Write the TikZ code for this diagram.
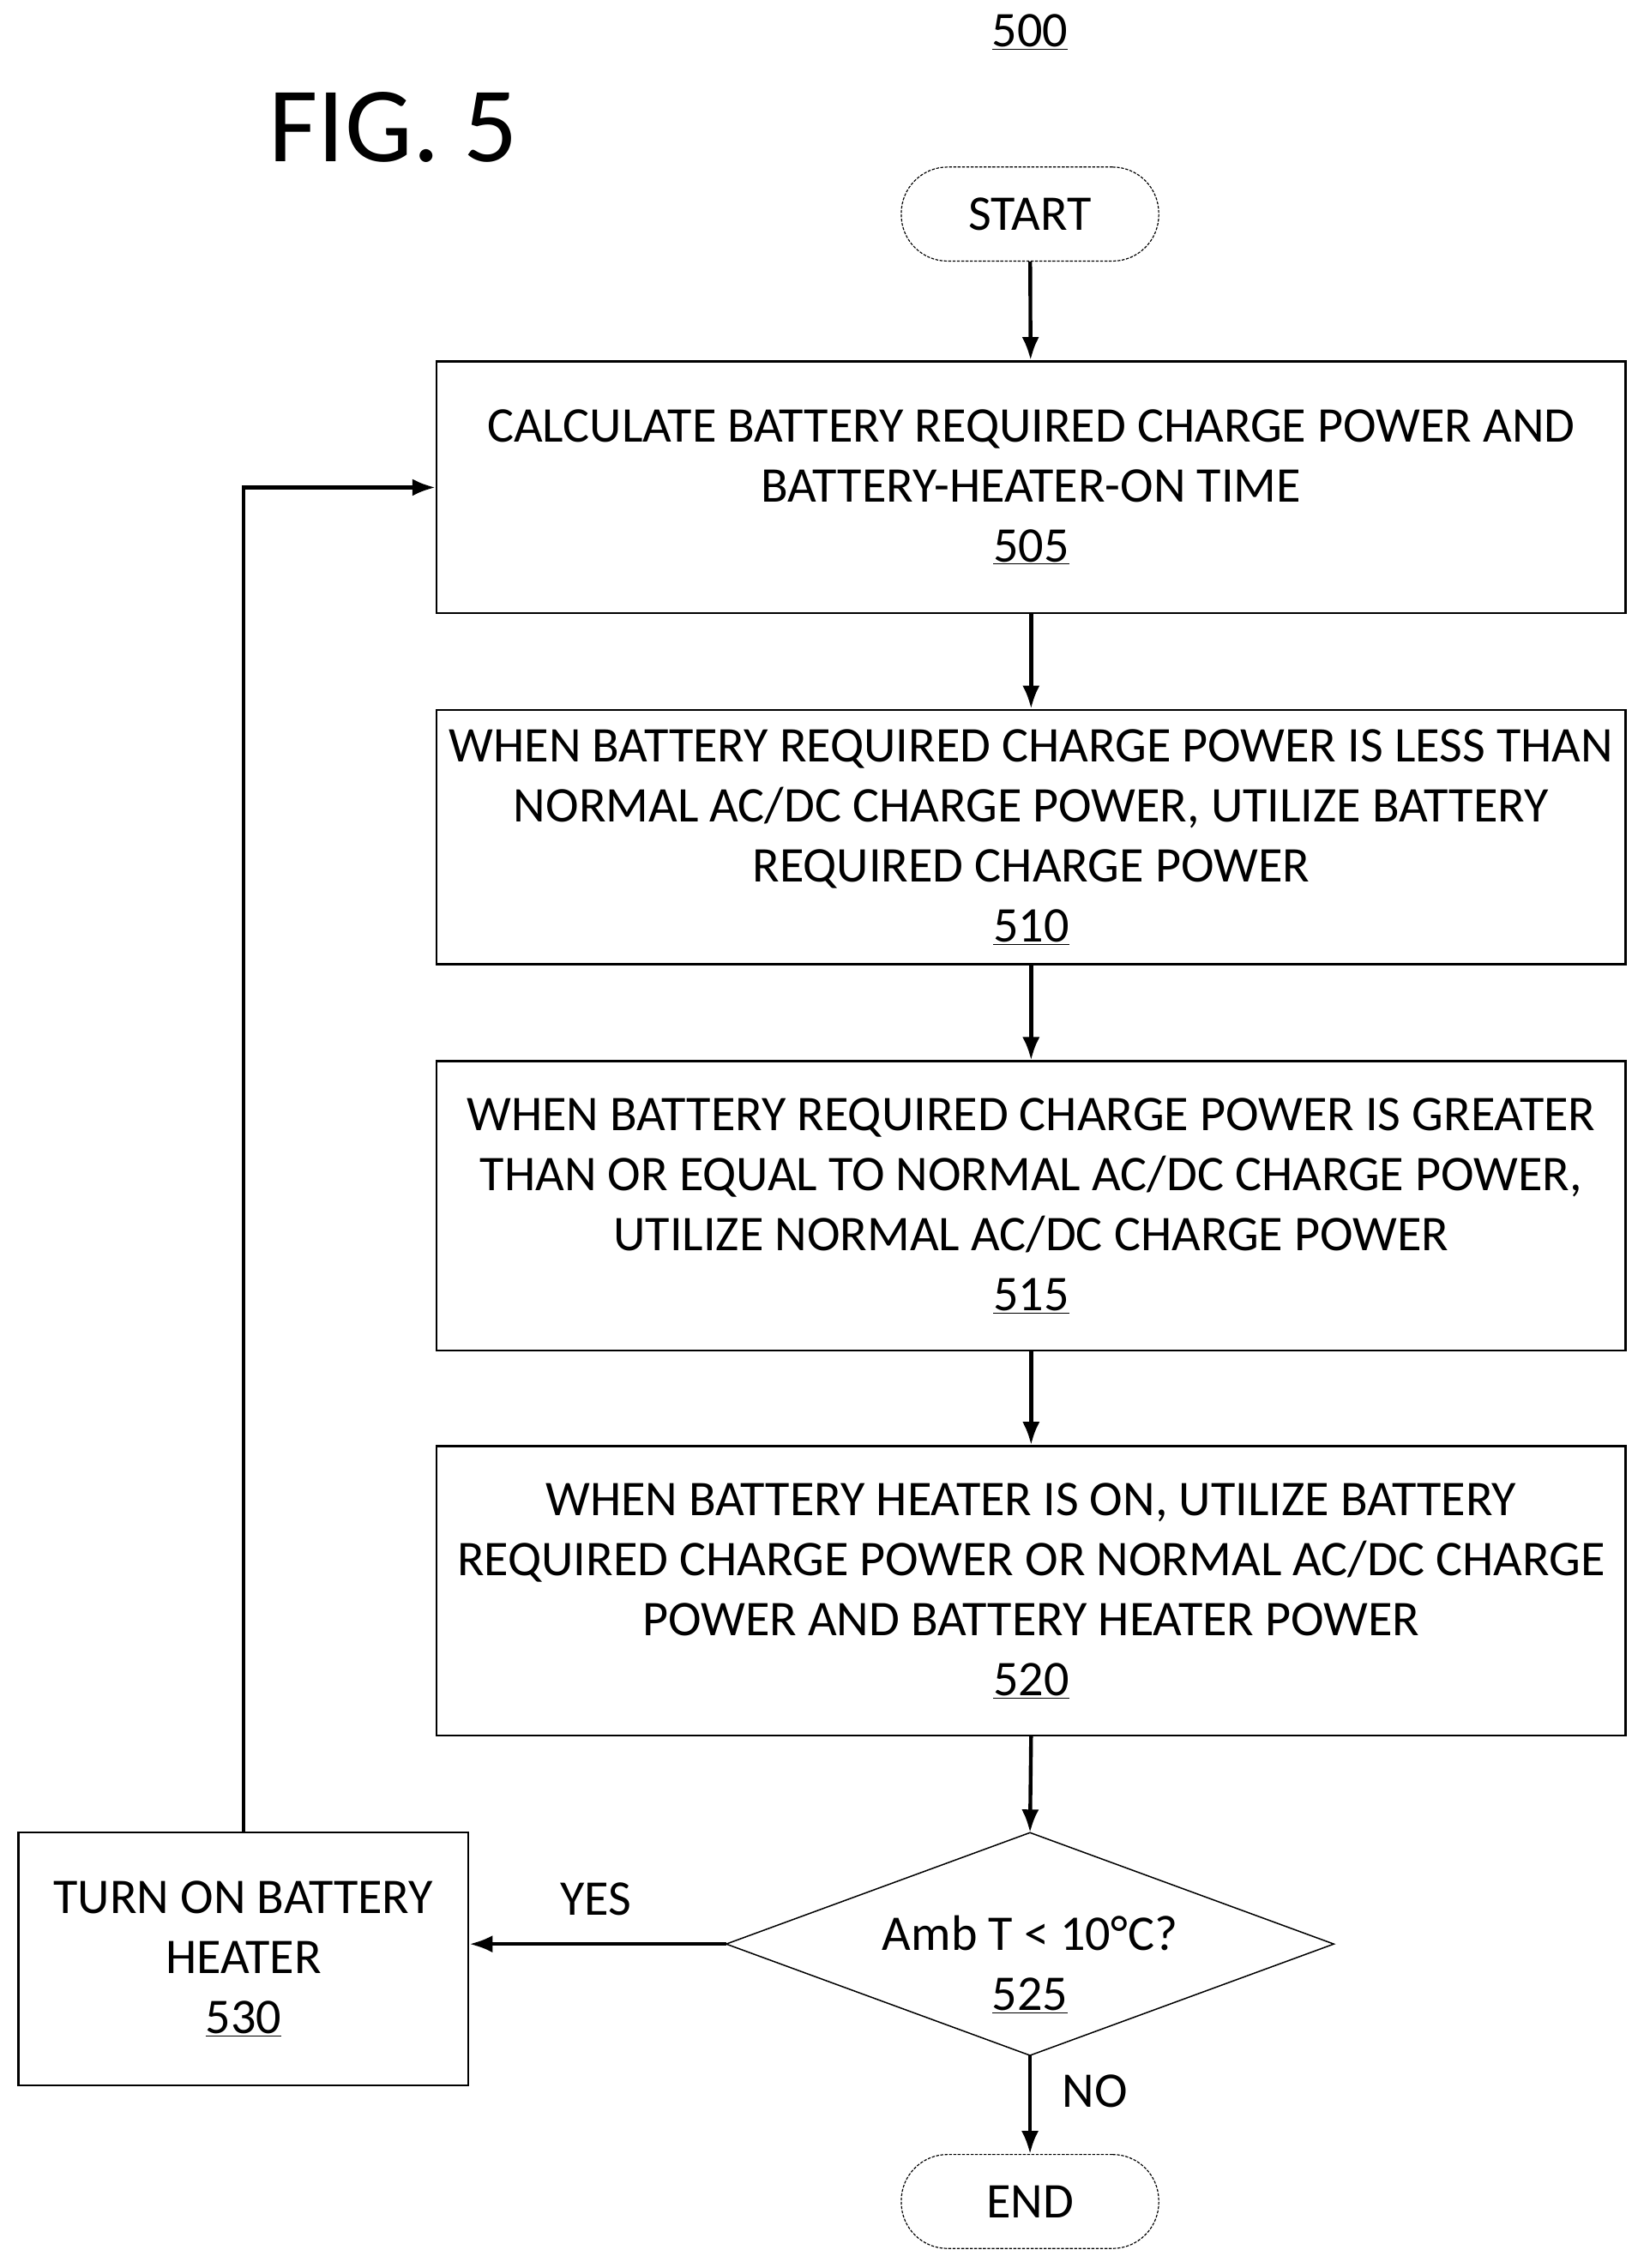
\documentclass[tikz,border=0pt]{standalone}
\usepackage{fontspec}
\setmainfont{Carlito}
\usetikzlibrary{shapes.geometric,arrows.meta}
\begin{document}
\begin{tikzpicture}[x=1pt,y=-1pt,
  txt/.style={font=\fontsize{34.5}{41.5}\selectfont,align=center},
  box/.style={draw,line width=1.5pt,txt,anchor=north west,inner sep=0pt},
  term/.style={draw,line width=0.7pt,dash pattern=on 2pt off 1pt,rounded corners=32pt,minimum width=178pt,minimum height=65pt,txt},
  arr/.style={line width=2.6pt,-{Latex[length=16pt,width=12pt]}}]
\useasboundingbox (0,0) rectangle (1136,1568);
\node[txt] (n500) at (712,22) {\underline{500}};
\node[font=\fontsize{74}{76}\selectfont] (fig) at (272,88) {FIG. 5};
\node[term] (start) at (712,148) {START};
\node[box,minimum width=822pt,minimum height=174pt] (b505) at (301,249) {};
\node[txt] at (b505.center) {CALCULATE BATTERY REQUIRED CHARGE POWER AND\\BATTERY-HEATER-ON TIME\\\underline{505}};
\node[box,minimum width=822pt,minimum height=176pt] (b510) at (301,490) {};
\node[txt] at (b510.center) {WHEN BATTERY REQUIRED CHARGE POWER IS LESS THAN\\NORMAL AC/DC CHARGE POWER, UTILIZE BATTERY\\REQUIRED CHARGE POWER\\\underline{510}};
\node[box,minimum width=822pt,minimum height=200pt] (b515) at (301,733) {};
\node[txt] at (b515.center) {WHEN BATTERY REQUIRED CHARGE POWER IS GREATER\\THAN OR EQUAL TO NORMAL AC/DC CHARGE POWER,\\UTILIZE NORMAL AC/DC CHARGE POWER\\\underline{515}};
\node[box,minimum width=822pt,minimum height=200pt] (b520) at (301,999) {};
\node[txt] at (b520.center) {WHEN BATTERY HEATER IS ON, UTILIZE BATTERY\\REQUIRED CHARGE POWER OR NORMAL AC/DC CHARGE\\POWER AND BATTERY HEATER POWER\\\underline{520}};
\draw[line width=0.9pt] (712,1267) coordinate (dt) -- (922,1344) coordinate (dr) -- (712,1421) coordinate (db) -- (502,1344) coordinate (dl) -- cycle;
\node[txt] (d525) at (712,1358) {Amb T < 10°C?\\\underline{525}};
\node[box,minimum width=311pt,minimum height=175pt] (b530) at (12,1266) {};
\node[txt] at (b530.center) {TURN ON BATTERY\\HEATER\\\underline{530}};
\node[term] (end) at (712,1522) {END};
\node[txt] (yes) at (412,1313) {YES};
\node[txt] (no) at (757,1446) {NO};
\draw[arr] (start) -- (b505);
\draw[arr] (b505) -- (b510);
\draw[arr] (b510) -- (b515);
\draw[arr] (b515) -- (b520);
\draw[arr] (b520.south) -- (dt);
\draw[arr] (db) -- (end);
\draw[arr] (dl) -- (b530.east |- dl);
\draw[arr] (b530.north) |- (b505.west |- 0,337);
\end{tikzpicture}
\end{document}
